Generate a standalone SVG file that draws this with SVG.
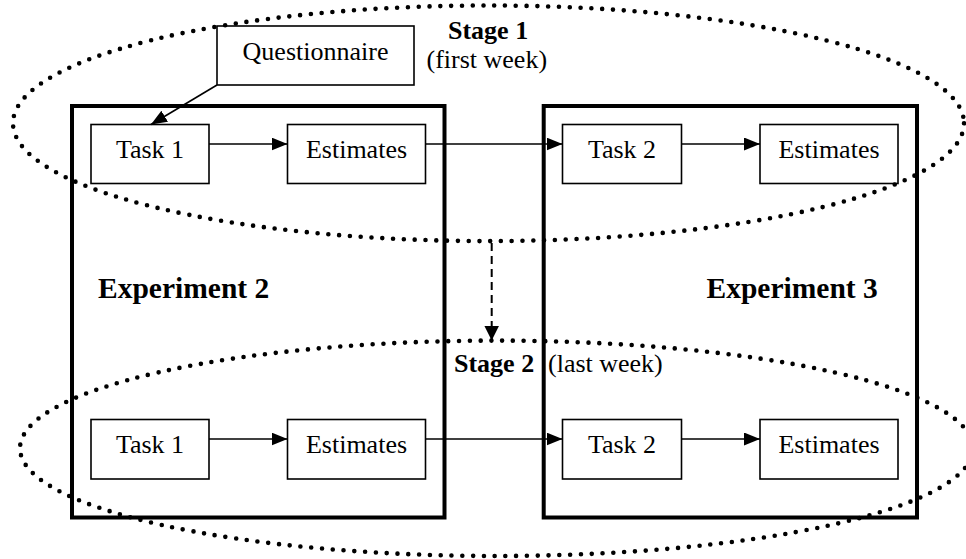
<svg xmlns="http://www.w3.org/2000/svg" width="966" height="559" viewBox="0 0 966 559">
<style>
  .box { fill: #fff; stroke: #000; stroke-width: 1.6; }
  .exp { fill: none; stroke: #000; stroke-width: 4; }
  .lbl { font-family: "Liberation Serif", "Times New Roman", serif; font-size: 26px; fill: #000; }
  .c { text-anchor: middle; }
  .b { font-weight: bold; }
  .big { font-family: "Liberation Serif", "Times New Roman", serif; font-size: 29.5px; font-weight: bold; fill: #000; }
  .conn { stroke: #000; stroke-width: 1.6; fill: none; marker-end: url(#ah); }
  .dash { stroke: #000; stroke-width: 2; fill: none; stroke-dasharray: 8 5; marker-end: url(#ahd); }
  .dots { fill: none; stroke: #000; stroke-width: 4.6; stroke-linecap: round; stroke-dasharray: 0 10.8; }
</style>
<defs>
  <marker id="ah" markerUnits="userSpaceOnUse" markerWidth="16" markerHeight="13" refX="16" refY="6.5" orient="auto">
    <path d="M0,0 L16,6.5 L0,13 z" fill="#000"/>
  </marker>
  <marker id="ahd" markerUnits="userSpaceOnUse" markerWidth="15" markerHeight="15" refX="15" refY="7.5" orient="auto">
    <path d="M0,0 L15,7.5 L0,15 z" fill="#000"/>
  </marker>
</defs>
<rect width="966" height="559" fill="#fff"/>

<g id="experiment2">
  <rect class="exp" x="72" y="106" width="372.5" height="411.5"/>
  <text class="big" x="98" y="298">Experiment 2</text>
</g>
<g id="experiment3">
  <rect class="exp" x="543.7" y="106" width="373.3" height="411.5"/>
  <text class="big" x="706.5" y="298">Experiment 3</text>
</g>

<g id="questionnaire">
  <rect class="box" x="217" y="26" width="197" height="59"/>
  <text class="lbl c" x="315.5" y="60">Questionnaire</text>
</g>

<g id="s1-task1">
  <rect class="box" x="91" y="124.5" width="118" height="59"/>
  <text class="lbl c" x="150" y="157.5">Task 1</text>
</g>
<g id="s1-estimates-a">
  <rect class="box" x="287.5" y="124.5" width="138" height="59"/>
  <text class="lbl c" x="356.5" y="157.5">Estimates</text>
</g>
<g id="s1-task2">
  <rect class="box" x="562.5" y="124.5" width="119" height="59"/>
  <text class="lbl c" x="622" y="157.5">Task 2</text>
</g>
<g id="s1-estimates-b">
  <rect class="box" x="760" y="124.5" width="138" height="59"/>
  <text class="lbl c" x="829" y="157.5">Estimates</text>
</g>

<g id="s2-task1">
  <rect class="box" x="91" y="419.5" width="118" height="59.5"/>
  <text class="lbl c" x="150" y="453">Task 1</text>
</g>
<g id="s2-estimates-a">
  <rect class="box" x="287.5" y="419.5" width="138" height="59.5"/>
  <text class="lbl c" x="356.5" y="453">Estimates</text>
</g>
<g id="s2-task2">
  <rect class="box" x="562.5" y="419.5" width="119" height="59.5"/>
  <text class="lbl c" x="622" y="453">Task 2</text>
</g>
<g id="s2-estimates-b">
  <rect class="box" x="760" y="419.5" width="138" height="59.5"/>
  <text class="lbl c" x="829" y="453">Estimates</text>
</g>

<g id="stage1">
  <ellipse class="dots" cx="488.5" cy="123.3" rx="475.5" ry="117.8"/>
  <text class="lbl b" x="448" y="38.5">Stage 1</text>
  <text class="lbl" x="426.5" y="68.3">(first week)</text>
</g>
<g id="stage2">
  <ellipse class="dots" cx="496.5" cy="448.3" rx="476.5" ry="107.7"/>
  <text class="lbl b" x="454" y="371.5">Stage 2</text>
  <text class="lbl" x="548" y="371.5">(last week)</text>
</g>

<g id="connectors">
  <line class="conn" x1="217" y1="85" x2="151" y2="124.5"/>
  <line class="conn" x1="209" y1="144" x2="287.5" y2="144"/>
  <line class="conn" x1="425.5" y1="144" x2="562.5" y2="144"/>
  <line class="conn" x1="681.5" y1="144" x2="760" y2="144"/>
  <line class="conn" x1="209" y1="439" x2="287.5" y2="439"/>
  <line class="conn" x1="425.5" y1="439" x2="562.5" y2="439"/>
  <line class="conn" x1="681.5" y1="439" x2="760" y2="439"/>
  <line class="dash" x1="491.7" y1="243" x2="491.7" y2="340.5"/>
</g>
</svg>
